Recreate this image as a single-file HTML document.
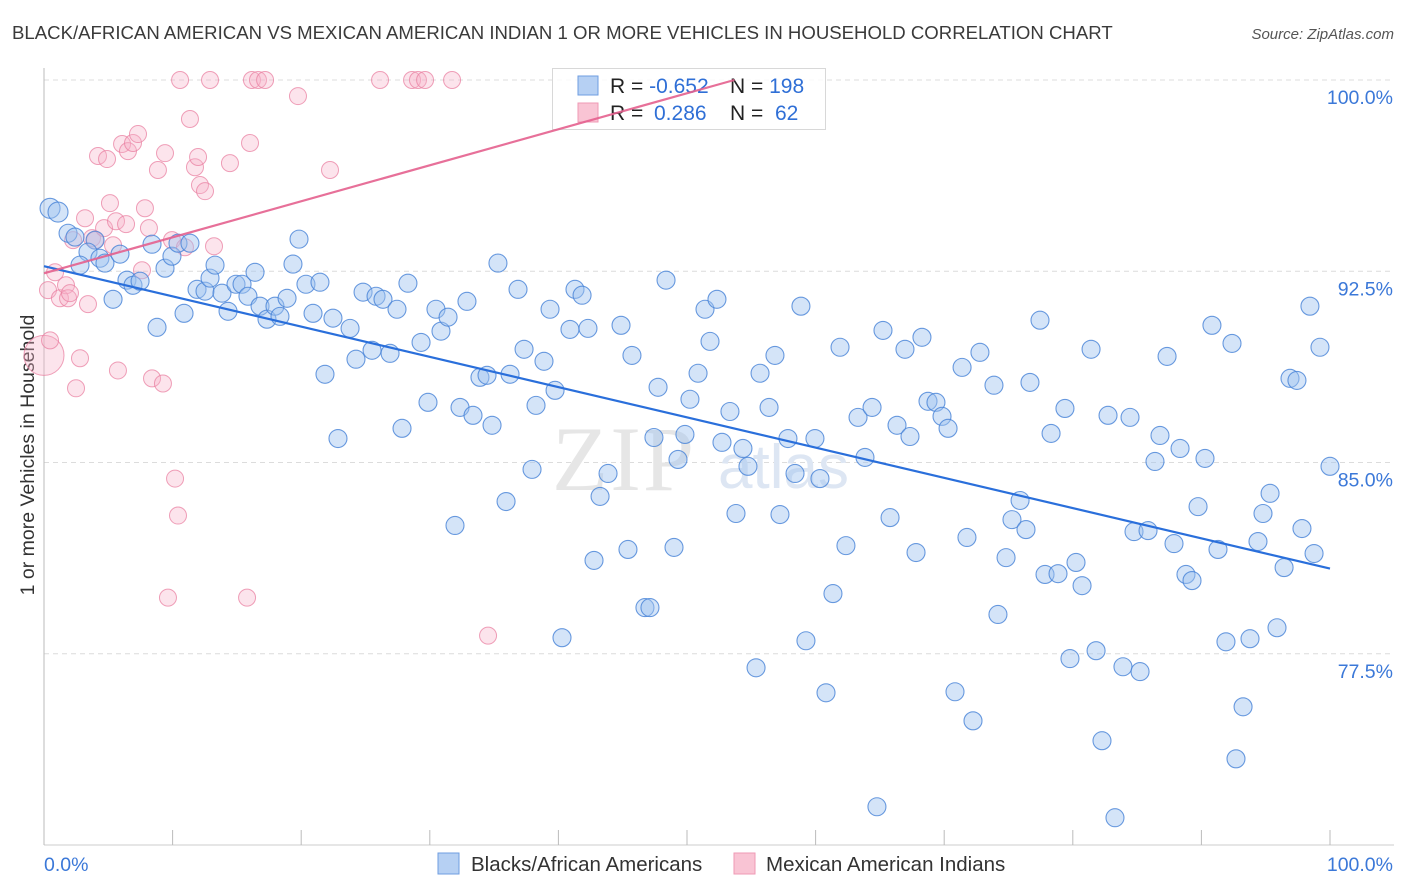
<!DOCTYPE html>
<html><head><meta charset="utf-8"><style>
body{margin:0;background:#fff;font-family:"Liberation Sans",sans-serif;}
svg{display:block}
</style></head><body>
<svg id="chart" width="1406" height="892">
<text x="12" y="39" font-size="18.6" fill="#3a3a3a">BLACK/AFRICAN AMERICAN VS MEXICAN AMERICAN INDIAN 1 OR MORE VEHICLES IN HOUSEHOLD CORRELATION CHART</text>
<text x="1394" y="39" font-size="15" fill="#555" font-style="italic" text-anchor="end">Source: ZipAtlas.com</text>
<text transform="translate(34,455) rotate(-90)" font-size="19.5" fill="#333" text-anchor="middle">1 or more Vehicles in Household</text>
<g id="grid"></g>
<g id="watermark">
<text x="552" y="490" font-family="Liberation Serif,serif" font-size="92" fill="#e6e6e6" letter-spacing="2">ZIP</text>
<text x="718" y="488" font-size="62" fill="#dde6f3">atlas</text>
</g>
<g id="pink"></g><g id="blue"></g>
<g>
<rect x="552.5" y="68.5" width="273" height="61" fill="#fff" fill-opacity="0.85" stroke="#d8d8d8"/>
<rect x="578" y="76" width="20" height="19" fill="#b6d0f3" stroke="#6f9ee0"/>
<rect x="578" y="103" width="20" height="19" fill="#f9c4d4" stroke="#ef9ab5"/>
<text x="610" y="93" font-size="21" fill="#222">R = <tspan fill="#2f6fd6">-0.652</tspan></text>
<text x="730" y="93" font-size="21" fill="#222">N = <tspan fill="#2f6fd6">198</tspan></text>
<text x="610" y="120" font-size="21" fill="#222">R = <tspan fill="#2f6fd6" x="654">0.286</tspan></text>
<text x="730" y="120" font-size="21" fill="#222">N = <tspan fill="#2f6fd6" x="775">62</tspan></text>
</g>
<g id="trends"></g>
<g>
<rect x="438" y="853" width="21" height="21" fill="#b6d0f3" stroke="#6f9ee0"/>
<text x="471" y="871" font-size="20.5" fill="#333">Blacks/African Americans</text>
<rect x="734" y="853" width="21" height="21" fill="#f9c4d4" stroke="#ef9ab5"/>
<text x="766" y="871" font-size="20.5" fill="#333">Mexican American Indians</text>
</g>
</svg>
<script>
const blueX=[0.47,1.09,1.87,2.41,3.97,3.42,2.80,4.35,4.74,5.91,5.37,6.45,6.92,7.47,8.40,8.79,9.41,9.95,10.42,11.35,10.89,11.90,12.52,12.91,13.30,13.84,14.31,14.93,15.40,15.86,16.41,16.80,17.34,17.96,18.35,18.90,19.36,19.83,20.37,20.92,21.46,21.85,22.47,22.86,23.80,24.26,24.81,25.51,25.82,26.36,26.91,27.45,27.84,28.30,29.32,29.86,30.48,30.87,31.42,31.96,32.35,32.89,33.36,33.90,34.45,34.84,35.30,35.93,36.24,36.86,37.33,37.95,38.26,38.88,39.35,39.74,40.28,40.90,41.29,41.84,42.30,42.77,43.24,43.86,44.87,45.41,45.72,46.73,47.12,47.43,47.75,48.37,48.99,49.30,49.84,50.23,50.86,51.40,51.79,52.33,52.72,53.34,53.81,54.35,54.74,55.37,55.68,56.38,56.84,57.23,57.85,58.40,58.86,59.25,59.95,60.34,60.81,61.35,61.90,62.36,63.30,63.84,64.39,64.77,65.24,65.79,66.33,66.95,67.34,67.81,68.27,68.74,69.36,69.83,70.30,70.84,71.39,71.77,72.24,72.78,73.87,74.18,74.81,75.27,75.90,76.36,76.67,77.45,77.84,78.31,78.85,79.39,79.78,80.25,80.72,81.42,81.81,82.27,82.74,83.28,83.90,84.45,84.76,85.23,85.85,86.39,86.78,87.33,87.87,88.34,88.80,89.27,89.74,90.28,90.82,91.29,91.91,92.38,92.69,93.24,93.78,94.40,94.79,95.34,95.88,96.43,96.89,97.43,97.82,98.44,98.76,99.22,100.0];
const blueY=[94.97,94.82,93.99,93.84,93.72,93.25,92.74,93.01,92.82,93.17,91.40,92.15,91.95,92.11,93.56,90.30,92.62,93.09,93.60,93.60,90.85,91.79,91.72,92.23,92.74,91.64,90.93,91.99,91.99,91.52,92.46,91.13,90.62,91.13,90.73,91.44,92.78,93.76,91.99,90.85,92.07,88.46,90.66,85.94,90.26,89.05,91.68,89.40,91.52,91.40,89.28,91.01,86.34,92.03,89.71,87.36,91.01,90.15,90.70,82.53,87.16,91.32,86.85,88.34,88.42,86.46,92.82,83.47,88.46,91.79,89.44,84.73,87.24,88.97,91.01,87.83,78.13,90.22,91.79,91.56,90.26,81.16,83.67,84.57,90.38,81.59,89.20,79.31,79.31,85.98,87.95,92.15,81.67,85.12,86.10,87.48,88.50,91.01,89.75,91.40,85.79,87.00,83.00,85.55,84.85,76.95,88.50,87.16,89.20,82.96,85.94,84.57,91.13,78.01,85.94,84.37,75.97,79.86,89.52,81.74,86.77,85.20,87.16,71.50,90.18,82.84,86.46,89.44,86.02,81.47,89.91,87.40,87.36,86.81,86.34,76.01,88.73,82.06,74.87,89.32,88.03,79.04,81.27,82.76,83.51,82.37,88.14,90.58,80.61,86.14,80.64,87.12,77.31,81.08,80.17,89.44,77.62,74.09,86.85,71.07,76.99,86.77,82.29,76.80,82.33,85.04,86.06,89.16,81.82,85.55,80.61,80.37,83.27,85.16,90.38,81.59,77.97,89.67,73.38,75.42,78.09,81.90,83.00,83.79,78.52,80.88,88.30,88.22,82.41,91.13,81.43,89.52,84.85];
const pinkX=[0,0.31,0.47,0.86,1.24,1.71,1.87,2.02,2.26,2.49,2.80,3.19,3.42,3.73,3.97,4.20,4.67,4.90,5.13,5.37,5.60,5.75,6.07,6.38,6.53,6.92,7.31,7.62,7.85,8.16,8.40,8.86,9.25,9.41,9.95,10.19,10.42,10.58,10.96,11.35,11.74,11.98,12.13,12.52,12.91,13.22,14.46,15.79,16.02,16.17,16.64,17.19,19.75,22.24,26.13,28.62,29.08,29.63,31.73,34.53,9.64];
const pinkY=[89.20,91.76,89.79,92.46,91.44,91.95,91.44,91.64,93.72,87.91,89.09,94.58,91.21,93.80,93.72,97.02,94.19,96.90,95.17,93.52,94.46,88.61,97.49,94.35,97.21,97.53,97.88,92.54,94.97,94.19,88.30,96.47,88.10,97.13,93.72,84.37,82.92,100,93.44,98.47,96.58,96.98,95.88,95.64,100,93.48,96.74,79.70,97.53,100,100,100,99.37,96.47,100,100,100,100,100,78.21,79.70];
const blueTrend=[92.70,80.84];      // y at x=0 and x=100
const pinkTrend=[92.42,0.1412];     // intercept, slope
const yTicks=[100,92.5,85,77.5];
const yTickLabels=["100.0%","92.5%","85.0%","77.5%"];
const xTicks=[0,10,20,30,40,50,60,70,80,90,100];

const NS="http://www.w3.org/2000/svg";
const X=v=>44+v*12.86;
const Y=v=>80+(100-v)*25.5;
function mk(tag,attrs,parent){const e=document.createElementNS(NS,tag);for(const k in attrs)e.setAttribute(k,attrs[k]);parent.appendChild(e);return e;}
const grid=document.getElementById('grid');
yTicks.forEach((t,i)=>{
  const l=mk('line',{x1:44,x2:1394,y1:Y(t),y2:Y(t),stroke:'#dcdcdc','stroke-dasharray':'5,4'},grid);
  
  
  const tx=mk('text',{x:1393,y:Y(t)+24,'font-size':19.5,fill:'#3b78d8','text-anchor':'end'},grid);
  tx.textContent=yTickLabels[i];
  
  
});
const ax=mk('line',{x1:44,x2:1394,y1:845,y2:845,stroke:'#ccc'},grid);


const ay=mk('line',{x1:44,x2:44,y1:68,y2:845,stroke:'#bbb'},grid);


xTicks.forEach(t=>{
  const l=mk('line',{x1:X(t),x2:X(t),y1:830,y2:845,stroke:'#bbb'},grid);
  
  
});
let t0=mk('text',{x:44,y:871,'font-size':19.5,fill:'#3b78d8'},grid);t0.textContent='0.0%';


let t1=mk('text',{x:1393,y:871,'font-size':19.5,fill:'#3b78d8','text-anchor':'end'},grid);t1.textContent='100.0%';



const pg=document.getElementById('pink');
pinkX.forEach((x,i)=>{
  const c=mk('circle',{cx:X(x),cy:Y(pinkY[i]),r:(i===0?20:8.5),fill:'rgba(246,178,200,0.35)',stroke:'rgba(234,128,162,0.75)','stroke-width':1},pg);
  
  
});
const bg=document.getElementById('blue');
blueX.forEach((x,i)=>{
  const c=mk('circle',{cx:X(x),cy:Y(blueY[i]),r:(i<2?10:9),fill:'rgba(160,196,240,0.45)',stroke:'rgba(70,130,215,0.8)','stroke-width':1.1},bg);
  
  
});
const tg=document.getElementById('trends');
const bl=mk('line',{x1:X(0),y1:Y(blueTrend[0]),x2:X(100),y2:Y(blueTrend[1]),stroke:'#2a6fdb','stroke-width':2.2},tg);


const pEnd=(100-pinkTrend[0])/pinkTrend[1];
const pl=mk('line',{x1:X(0),y1:Y(pinkTrend[0]),x2:X(pEnd),y2:Y(100),stroke:'#e4608e','stroke-width':2.2,'stroke-opacity':0.9},tg);


</script>
</body></html>
